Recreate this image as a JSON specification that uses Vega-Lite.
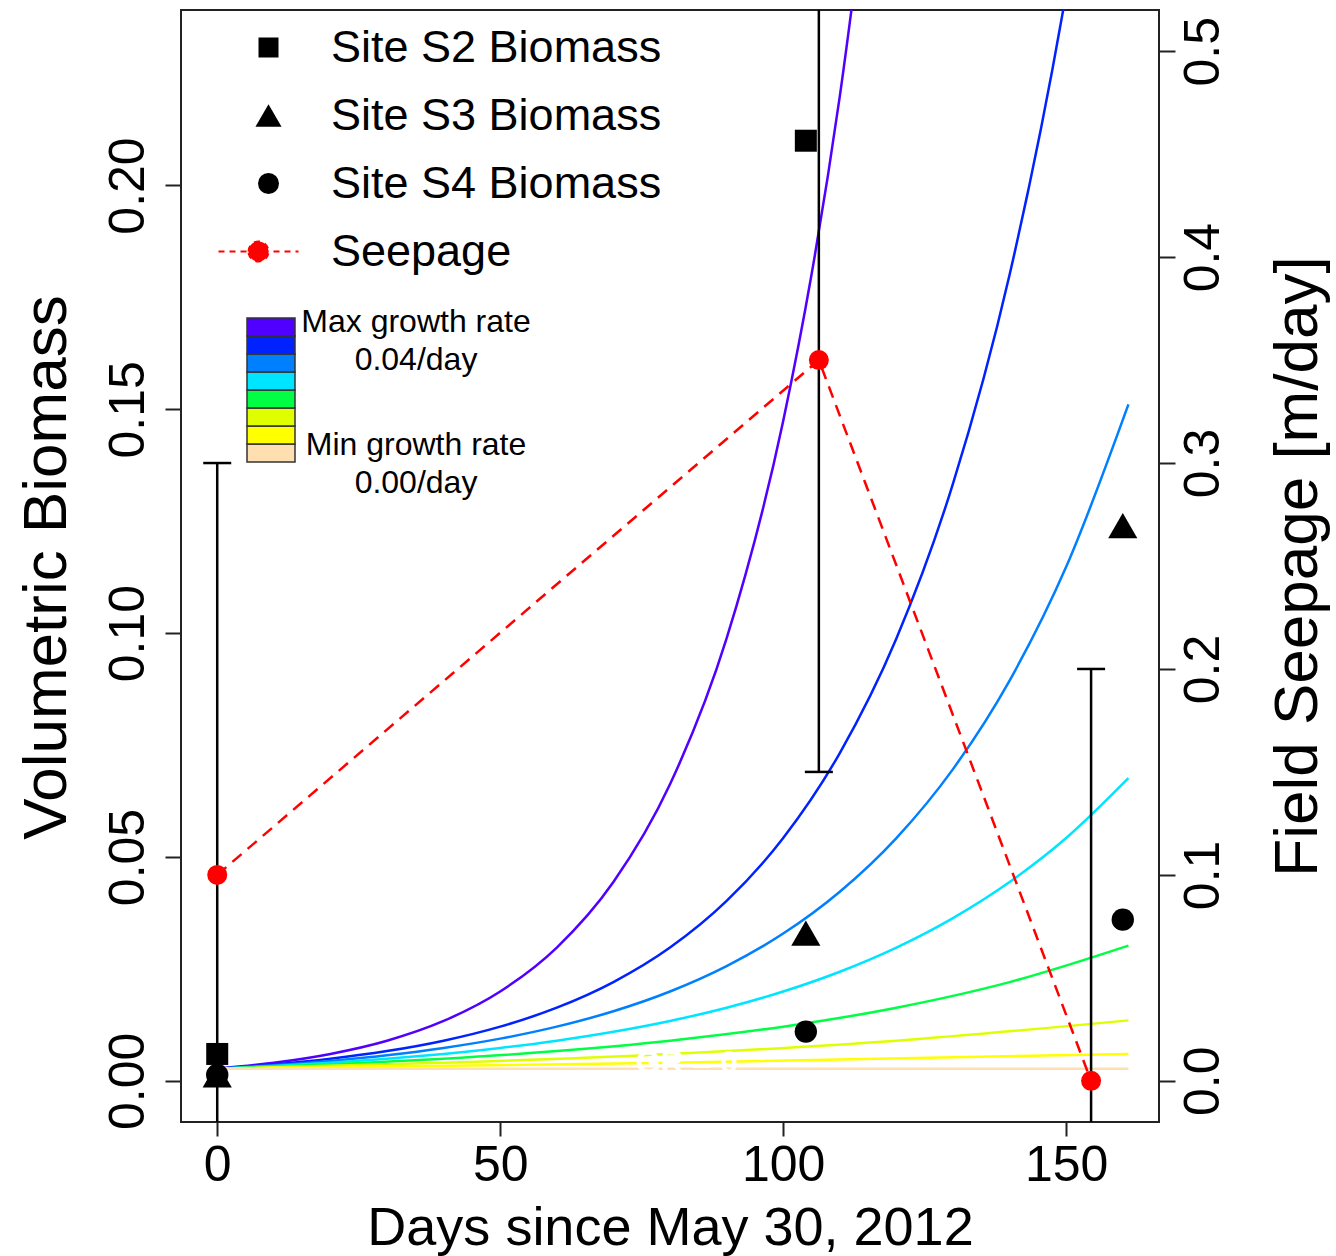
{
  "$schema": "https://vega.github.io/schema/vega-lite/v6.json",
  "width": 978,
  "height": 1112,
  "autosize": {"type": "none"},
  "padding": {"left": 181, "top": 10, "right": 177, "bottom": 134},
  "background": "white",
  "datasets": {
    "growth": [
      {"rate": 0.04, "day": 0, "biomass": 0.0027},
      {"rate": 0.04, "day": 10, "biomass": 0.00403},
      {"rate": 0.04, "day": 20, "biomass": 0.00601},
      {"rate": 0.04, "day": 30, "biomass": 0.00896},
      {"rate": 0.04, "day": 40, "biomass": 0.01337},
      {"rate": 0.04, "day": 50, "biomass": 0.01995},
      {"rate": 0.04, "day": 60, "biomass": 0.02976},
      {"rate": 0.04, "day": 70, "biomass": 0.0444},
      {"rate": 0.04, "day": 80, "biomass": 0.06624},
      {"rate": 0.04, "day": 90, "biomass": 0.09881},
      {"rate": 0.04, "day": 100, "biomass": 0.14741},
      {"rate": 0.04, "day": 105, "biomass": 0.18005},
      {"rate": 0.04, "day": 110, "biomass": 0.21992},
      {"rate": 0.04, "day": 115, "biomass": 0.26861},
      {"rate": 0.03, "day": 0, "biomass": 0.0027},
      {"rate": 0.03, "day": 10, "biomass": 0.00365},
      {"rate": 0.03, "day": 20, "biomass": 0.00492},
      {"rate": 0.03, "day": 30, "biomass": 0.00664},
      {"rate": 0.03, "day": 40, "biomass": 0.00896},
      {"rate": 0.03, "day": 50, "biomass": 0.0121},
      {"rate": 0.03, "day": 60, "biomass": 0.01633},
      {"rate": 0.03, "day": 70, "biomass": 0.02205},
      {"rate": 0.03, "day": 80, "biomass": 0.02976},
      {"rate": 0.03, "day": 90, "biomass": 0.04018},
      {"rate": 0.03, "day": 100, "biomass": 0.05423},
      {"rate": 0.03, "day": 110, "biomass": 0.07321},
      {"rate": 0.03, "day": 120, "biomass": 0.09881},
      {"rate": 0.03, "day": 130, "biomass": 0.13339},
      {"rate": 0.03, "day": 140, "biomass": 0.18005},
      {"rate": 0.03, "day": 150, "biomass": 0.24305},
      {"rate": 0.03, "day": 155, "biomass": 0.28237},
      {"rate": 0.025, "day": 0, "biomass": 0.0027},
      {"rate": 0.025, "day": 10, "biomass": 0.003467},
      {"rate": 0.025, "day": 20, "biomass": 0.004451},
      {"rate": 0.025, "day": 30, "biomass": 0.005716},
      {"rate": 0.025, "day": 40, "biomass": 0.00734},
      {"rate": 0.025, "day": 50, "biomass": 0.00942},
      {"rate": 0.025, "day": 60, "biomass": 0.0121},
      {"rate": 0.025, "day": 70, "biomass": 0.01554},
      {"rate": 0.025, "day": 80, "biomass": 0.01995},
      {"rate": 0.025, "day": 90, "biomass": 0.02562},
      {"rate": 0.025, "day": 100, "biomass": 0.03289},
      {"rate": 0.025, "day": 110, "biomass": 0.04224},
      {"rate": 0.025, "day": 120, "biomass": 0.05423},
      {"rate": 0.025, "day": 130, "biomass": 0.06963},
      {"rate": 0.025, "day": 140, "biomass": 0.08941},
      {"rate": 0.025, "day": 150, "biomass": 0.11481},
      {"rate": 0.025, "day": 161, "biomass": 0.1511},
      {"rate": 0.02, "day": 0, "biomass": 0.0027},
      {"rate": 0.02, "day": 10, "biomass": 0.0033},
      {"rate": 0.02, "day": 20, "biomass": 0.00403},
      {"rate": 0.02, "day": 30, "biomass": 0.00492},
      {"rate": 0.02, "day": 40, "biomass": 0.00601},
      {"rate": 0.02, "day": 50, "biomass": 0.00734},
      {"rate": 0.02, "day": 60, "biomass": 0.00896},
      {"rate": 0.02, "day": 70, "biomass": 0.01095},
      {"rate": 0.02, "day": 80, "biomass": 0.01337},
      {"rate": 0.02, "day": 90, "biomass": 0.01633},
      {"rate": 0.02, "day": 100, "biomass": 0.01995},
      {"rate": 0.02, "day": 110, "biomass": 0.02437},
      {"rate": 0.02, "day": 120, "biomass": 0.02976},
      {"rate": 0.02, "day": 130, "biomass": 0.03635},
      {"rate": 0.02, "day": 140, "biomass": 0.0444},
      {"rate": 0.02, "day": 150, "biomass": 0.05423},
      {"rate": 0.02, "day": 161, "biomass": 0.0676},
      {"rate": 0.015, "day": 0, "biomass": 0.0027},
      {"rate": 0.015, "day": 20, "biomass": 0.003645},
      {"rate": 0.015, "day": 40, "biomass": 0.00492},
      {"rate": 0.015, "day": 60, "biomass": 0.006641},
      {"rate": 0.015, "day": 80, "biomass": 0.008964},
      {"rate": 0.015, "day": 100, "biomass": 0.0121},
      {"rate": 0.015, "day": 120, "biomass": 0.01633},
      {"rate": 0.015, "day": 140, "biomass": 0.02205},
      {"rate": 0.015, "day": 161, "biomass": 0.0302},
      {"rate": 0.01, "day": 0, "biomass": 0.0027},
      {"rate": 0.01, "day": 40, "biomass": 0.00403},
      {"rate": 0.01, "day": 80, "biomass": 0.006009},
      {"rate": 0.01, "day": 120, "biomass": 0.008964},
      {"rate": 0.01, "day": 161, "biomass": 0.0135},
      {"rate": 0.005, "day": 0, "biomass": 0.0027},
      {"rate": 0.005, "day": 80, "biomass": 0.004028},
      {"rate": 0.005, "day": 161, "biomass": 0.0060},
      {"rate": 0, "day": 0, "biomass": 0.0027},
      {"rate": 0, "day": 161, "biomass": 0.0027}
    ],
    "sites": [
      {"site": "Site S2 Biomass", "day": 0, "biomass": 0.006},
      {"site": "Site S2 Biomass", "day": 104, "biomass": 0.21},
      {"site": "Site S4 Biomass", "day": 0, "biomass": 0.0013},
      {"site": "Site S4 Biomass", "day": 104, "biomass": 0.011},
      {"site": "Site S4 Biomass", "day": 160, "biomass": 0.036},
      {"site": "Site S3 Biomass", "day": 0, "biomass": 0.0013},
      {"site": "Site S3 Biomass", "day": 104, "biomass": 0.033},
      {"site": "Site S3 Biomass", "day": 160, "biomass": 0.124}
    ],
    "seepage": [
      {"day": 0, "seepage": 0.1, "lo": -0.1, "hi": 0.3},
      {"day": 106.3, "seepage": 0.35, "lo": 0.15, "hi": 0.55},
      {"day": 154.4, "seepage": 0.0, "lo": -0.2, "hi": 0.2}
    ],
    "notes": [
      {"label": "GR = 0", "day": 83, "biomass": 0.004}
    ]
  },
  "encoding": {
    "x": {
      "field": "day",
      "type": "quantitative",
      "scale": {"domain": [-6.4, 166.4], "nice": false, "zero": false},
      "axis": {
        "title": "Days since May 30, 2012",
        "values": [0, 50, 100, 150],
        "labelFontSize": 50,
        "labelBaseline": "alphabetic",
        "labelPadding": 44,
        "labelFlush": false,
        "labelOverlap": false,
        "tickSize": 14,
        "titleFontSize": 54,
        "titleX": 489,
        "titleY": 122,
        "titleAlign": "center",
        "titleBaseline": "alphabetic"
      }
    }
  },
  "layer": [
    {
      "layer": [
        {
          "data": {"name": "growth"},
          "mark": {"type": "line", "strokeWidth": 2.5, "clip": true, "interpolate": "monotone"},
          "encoding": {
            "y": {
              "field": "biomass",
              "type": "quantitative",
              "scale": {"domain": [-0.0092, 0.2392], "nice": false, "zero": false},
              "axis": {
                "orient": "left",
                "title": "Volumetric Biomass",
                "values": [0, 0.05, 0.1, 0.15, 0.2],
                "format": ".2f",
                "labelAngle": -90,
                "labelAlign": "center",
                "labelBaseline": "alphabetic",
                "labelPadding": 22,
                "labelFontSize": 50,
                "labelFlush": false,
                "labelOverlap": false,
                "tickSize": 16,
                "titleFontSize": 62,
                "titleAngle": -90,
                "titleX": -116,
                "titleY": 557,
                "titleAlign": "center",
                "titleBaseline": "alphabetic"
              }
            },
            "detail": {"field": "rate", "type": "nominal"},
            "color": {
              "field": "rate",
              "type": "quantitative",
              "scale": {
                "type": "quantize",
                "domain": [-0.0025, 0.0375],
                "nice": false,
                "zero": false,
                "range": ["#ffdfb0", "#ffff00", "#dfff00", "#00ff44", "#00e5ff", "#0080ff", "#0022ff", "#5000ff"]
              },
              "legend": {
                "type": "gradient",
                "orient": "none",
                "legendX": 66,
                "legendY": 308,
                "direction": "vertical",
                "title": null,
                "padding": 0,
                "gradientLength": 144,
                "gradientThickness": 48,
                "gradientStrokeColor": "#333333",
                "gradientStrokeWidth": 1.5,
                "labelExpr": "datum.value > 0.03 ? ['Max growth rate', '0.04/day'] : datum.value < 0 ? ['Min growth rate', '0.00/day'] : ''",
                "labelFontSize": 32,
                "labelOffset": 121,
                "labelAlign": "center",
                "labelBaseline": "middle",
                "labelOverlap": false,
                "labelLimit": 600,
                "encode": {
                  "labels": {
                    "update": {
                      "lineHeight": {"value": 38},
                      "baseline": {"value": "middle"},
                      "align": {"value": "center"},
                      "dy": {"signal": "datum.value < 0 ? -17 : -14"}
                    }
                  }
                }
              }
            }
          }
        },
        {
          "data": {"name": "sites"},
          "mark": {"type": "point", "filled": true, "opacity": 1},
          "encoding": {
            "y": {
              "field": "biomass",
              "type": "quantitative",
              "scale": {"domain": [-0.0092, 0.2392], "nice": false, "zero": false},
              "axis": {
                "orient": "left",
                "title": "Volumetric Biomass",
                "values": [0, 0.05, 0.1, 0.15, 0.2],
                "format": ".2f",
                "labelAngle": -90,
                "labelAlign": "center",
                "labelBaseline": "alphabetic",
                "labelPadding": 22,
                "labelFontSize": 50,
                "labelFlush": false,
                "labelOverlap": false,
                "tickSize": 16,
                "titleFontSize": 62,
                "titleAngle": -90,
                "titleX": -116,
                "titleY": 557,
                "titleAlign": "center",
                "titleBaseline": "alphabetic"
              }
            },
            "fill": {
              "field": "site",
              "type": "nominal",
              "scale": {
                "domain": ["Site S2 Biomass", "Site S3 Biomass", "Site S4 Biomass"],
                "range": ["black", "black", "black"]
              },
              "legend": null
            },
            "shape": {
              "field": "site",
              "type": "nominal",
              "scale": {
                "domain": ["Site S2 Biomass", "Site S3 Biomass", "Site S4 Biomass", "Seepage"],
                "range": ["square", "triangle-up", "circle", "M-5,0L3,0M-2,0A1,1,0,1,1,0,0A1,1,0,1,1,-2,0Z"]
              },
              "legend": {
                "orient": "none",
                "legendX": 65,
                "legendY": 15,
                "title": null,
                "padding": 0,
                "labelFontSize": 45,
                "labelLimit": 800,
                "labelOffset": 40,
                "rowPadding": 22,
                "symbolOffset": 0,
                "symbolSize": {"expr": "datum.value === 'Site S3 Biomass' ? 680 : datum.value === 'Site S4 Biomass' ? 440 : 400"},
                "symbolOpacity": 1,
                "symbolFillColor": {"expr": "datum.value === 'Seepage' ? '#ff0000' : 'black'"},
                "symbolStrokeColor": {"expr": "datum.value === 'Seepage' ? '#ff0000' : 'black'"},
                "symbolStrokeWidth": {"expr": "datum.value === 'Seepage' ? 2 : 0"},
                "symbolDash": [6, 5]
              }
            },
            "size": {
              "field": "site",
              "type": "nominal",
              "scale": {
                "type": "ordinal",
                "domain": ["Site S2 Biomass", "Site S3 Biomass", "Site S4 Biomass"],
                "range": [484, 850, 500]
              },
              "legend": null
            }
          }
        },
        {
          "data": {"name": "notes"},
          "mark": {"type": "text", "color": "white", "fontSize": 32, "fontWeight": "bold", "align": "center", "baseline": "middle"},
          "encoding": {
            "y": {
              "field": "biomass",
              "type": "quantitative",
              "scale": {"domain": [-0.0092, 0.2392], "nice": false, "zero": false}
            },
            "text": {"field": "label"}
          }
        }
      ]
    },
    {
      "data": {"name": "seepage"},
      "layer": [
        {
          "mark": {"type": "rule", "color": "black", "strokeWidth": 2.5, "clip": true},
          "encoding": {
            "y": {
              "field": "lo",
              "type": "quantitative",
              "scale": {"domain": [-0.02, 0.52], "nice": false, "zero": false},
              "axis": {
                "orient": "right",
                "title": "Field Seepage [m/day]",
                "values": [0, 0.1, 0.2, 0.3, 0.4, 0.5],
                "format": ".1f",
                "labelAngle": -90,
                "labelAlign": "center",
                "labelBaseline": "alphabetic",
                "labelPadding": 43,
                "labelFontSize": 50,
                "labelFlush": false,
                "labelOverlap": false,
                "tickSize": 16,
                "titleFontSize": 62,
                "titleAngle": -90,
                "titleX": 157,
                "titleY": 556,
                "titleAlign": "center",
                "titleBaseline": "alphabetic"
              }
            },
            "y2": {"field": "hi"}
          }
        },
        {
          "mark": {"type": "tick", "orient": "horizontal", "size": 28, "thickness": 2.5, "color": "black", "opacity": 1, "clip": true},
          "encoding": {
            "y": {
              "field": "lo",
              "type": "quantitative",
              "scale": {"domain": [-0.02, 0.52], "nice": false, "zero": false}
            }
          }
        },
        {
          "mark": {"type": "tick", "orient": "horizontal", "size": 28, "thickness": 2.5, "color": "black", "opacity": 1, "clip": true},
          "encoding": {
            "y": {
              "field": "hi",
              "type": "quantitative",
              "scale": {"domain": [-0.02, 0.52], "nice": false, "zero": false}
            }
          }
        },
        {
          "mark": {"type": "line", "color": "#ff0000", "strokeWidth": 2.5, "strokeDash": [12, 8], "clip": true},
          "encoding": {
            "y": {
              "field": "seepage",
              "type": "quantitative",
              "scale": {"domain": [-0.02, 0.52], "nice": false, "zero": false}
            }
          }
        },
        {
          "mark": {"type": "point", "filled": true, "shape": "circle", "color": "#ff0000", "size": 400, "opacity": 1, "strokeWidth": 0},
          "encoding": {
            "y": {
              "field": "seepage",
              "type": "quantitative",
              "scale": {"domain": [-0.02, 0.52], "nice": false, "zero": false}
            }
          }
        }
      ]
    }
  ],
  "resolve": {"scale": {"y": "independent"}},
  "config": {
    "font": "Liberation Sans",
    "view": {"stroke": "#222222", "strokeWidth": 2},
    "axis": {
      "grid": false,
      "domain": false,
      "tickColor": "#222222",
      "tickWidth": 2,
      "labelColor": "black",
      "titleColor": "black",
      "labelFont": "Liberation Sans",
      "titleFont": "Liberation Sans",
      "titleFontWeight": "normal"
    },
    "legend": {
      "labelFont": "Liberation Sans",
      "labelColor": "black"
    }
  }
}
